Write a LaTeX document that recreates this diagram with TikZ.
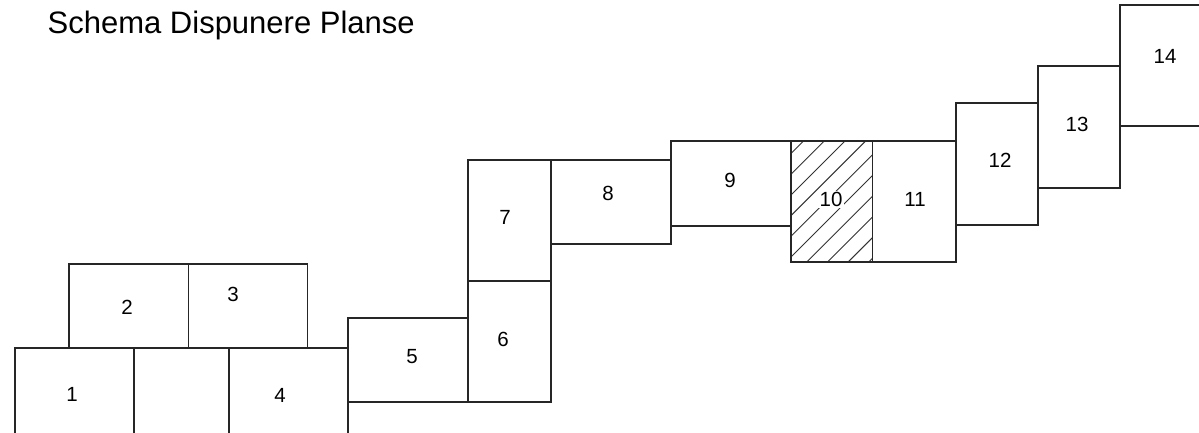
\documentclass[tikz,border=0pt]{standalone}
\usepackage{fontspec}
\setmainfont{Liberation Sans}
\begin{document}
\begin{tikzpicture}[x=1pt,y=-1pt,
  panel/.style={draw=black!85,line width=1.1pt},
  hatch/.style={draw=black!80,line width=0.9pt},
  lbl/.style={inner sep=0pt,anchor=center,font=\fontsize{20.5}{24}\selectfont},
  ttl/.style={inner sep=0pt,anchor=base west,font=\fontsize{31}{37}\selectfont}]
\useasboundingbox (0,0) rectangle (1199,432);
\clip (0,0) rectangle (1199,432);
\fill[white] (0,0) rectangle (1199,432);
% title
\node[ttl] (title) at (47.5,33) {Schema Dispunere Planse};
% bottom-left group 1..4
\draw[panel] (15,440) -- (15,348) -- (348,348) -- (348,440);
\draw[panel] (134,348) -- (134,440);
\draw[panel] (229,348) -- (229,440);
% 2 and 3
\draw[panel] (69,348) -- (69,264) -- (307.5,264) -- (307.5,348);
\draw[panel] (188.5,264) -- (188.5,348);
% 5
\draw[panel] (348,318) rectangle (468,402);
% 6 and 7
\draw[panel] (468,281) rectangle (551,402);
\draw[panel] (468,160) rectangle (551,281);
% 8
\draw[panel] (551,160) rectangle (671,244);
% 9
\draw[panel] (671,141) rectangle (791,226);
% 10 hatched
\begin{scope}
  \clip (791,141) rectangle (872.7,262);
  \foreach \c in {-8,...,3}
    \draw[hatch] ({806.7+20.7*\c},262) -- ++(140,-140);
\end{scope}
\draw[panel] (791,141) rectangle (872.7,262);
% 11
\draw[panel] (872.7,141) rectangle (956,262);
% 12
\draw[panel] (956,103) rectangle (1038,225);
% 13
\draw[panel] (1038,66) rectangle (1120,188);
% 14
\draw[panel] (1210,5) -- (1120,5) -- (1120,126) -- (1210,126);
% labels
\node[lbl] (n1) at (72,394) {1};
\node[lbl] (n2) at (127,307) {2};
\node[lbl] (n3) at (233,294) {3};
\node[lbl] (n4) at (280,395) {4};
\node[lbl] (n5) at (412,357) {5};
\node[lbl] (n6) at (503,339) {6};
\node[lbl] (n7) at (505,217) {7};
\node[lbl] (n8) at (608,193) {8};
\node[lbl] (n9) at (730,180) {9};
\node[lbl,fill=white,inner sep=1.5pt] (n10) at (831,199.5) {10};
\node[lbl] (n11) at (915,199) {11};
\node[lbl] (n12) at (1000,160) {12};
\node[lbl] (n13) at (1077,124) {13};
\node[lbl] (n14) at (1165,56) {14};
\end{tikzpicture}
\end{document}
